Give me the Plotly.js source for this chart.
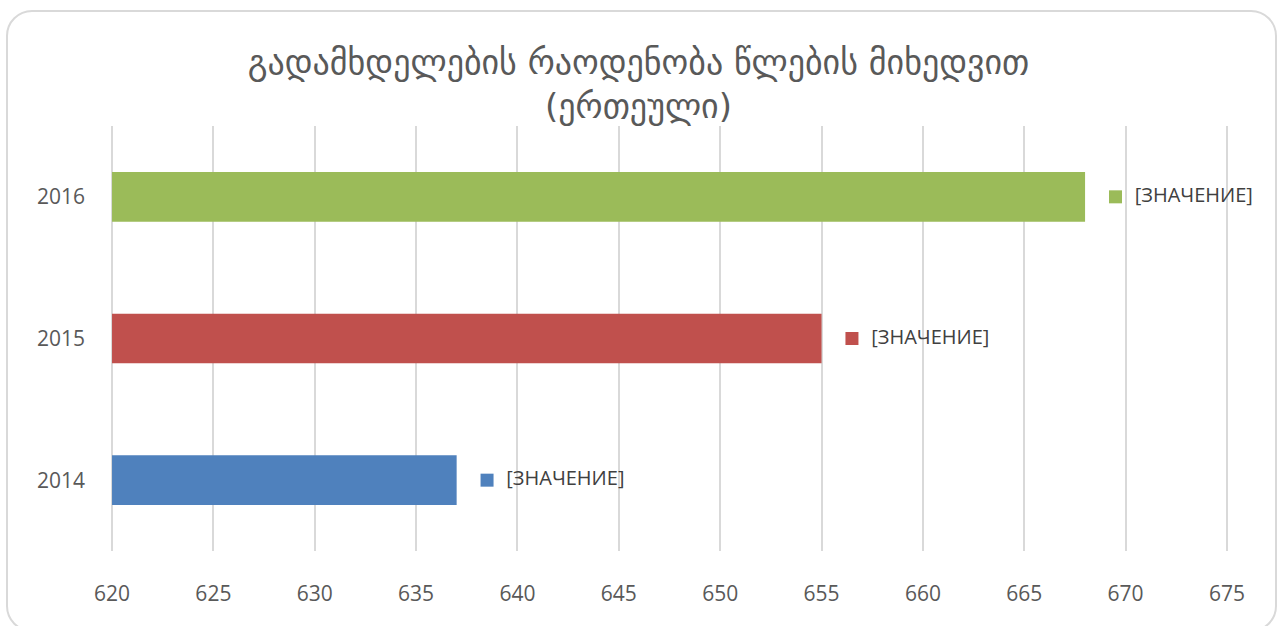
<!DOCTYPE html>
<html>
<head>
<meta charset="utf-8">
<script src="https://cdn.plot.ly/plotly-3.0.1.min.js"></script>
<style>
  html, body { margin: 0; padding: 0; background: #fff; overflow: hidden; }
  #myDiv { width: 1277px; height: 626px; }
  #frame {
    position: absolute; left: 6px; top: 10px; width: 1271px; height: 622px;
    box-sizing: border-box;
    border: 2px solid #d9d9d9; border-radius: 26px; pointer-events: none;
  }
</style>
</head>
<body>
<div id="myDiv"></div>
<div id="frame"></div>
<script>
var divId = "myDiv";

var years = ["2014", "2015", "2016"];
var counts = [637, 655, 668];
var barColors = ['#4f81bd', '#c0504d', '#9bbb59'];
var valueLabels = ["[ЗНАЧЕНИЕ]", "[ЗНАЧЕНИЕ]", "[ЗНАЧЕНИЕ]"];
var xTicks = [620, 625, 630, 635, 640, 645, 650, 655, 660, 665, 670, 675];

var axisMin = xTicks[0];
var textGray = '#595959';

var data = [
  {
    type: "bar",
    orientation: 'h',
    y: years,
    // bars start at the axis minimum like in the original excel chart
    base: axisMin,
    x: counts.map(function (v) { return v - axisMin; }),
    width: 0.35,
    marker: { color: barColors },
    customdata: counts,
    hovertemplate: '%{y}: %{customdata}<extra></extra>',
    showlegend: false,
  },
  // colored key next to each bar
  {
    type: "scatter",
    mode: "markers",
    y: years,
    x: counts.map(function (v) { return v + 1.5; }),
    marker: { symbol: 'square', size: 13, color: barColors },
    hoverinfo: 'skip',
    showlegend: false,
    cliponaxis: false,
  },
  // label text after the key
  {
    type: "scatter",
    mode: "text",
    y: years,
    x: counts.map(function (v) { return v + 2.45; }),
    text: valueLabels,
    textposition: 'middle right',
    textfont: { family: 'Open Sans, sans-serif', size: 20, color: '#404040' },
    hoverinfo: 'skip',
    showlegend: false,
    cliponaxis: false,
  },
];

var layouts = {
  width: 1277,
  height: 626,
  margin: { l: 110, r: 48, t: 126, b: 75, pad: 0 },
  paper_bgcolor: 'rgba(0,0,0,0)',
  plot_bgcolor: 'rgba(0,0,0,0)',
  title: {
    text: "გადამხდელების რაოდენობა წლების მიხედვით<br>(ერთეული)",
    font: { family: 'DejaVu Sans, sans-serif', size: 34, color: textGray },
    xref: 'container',
    x: 0.5,
    xanchor: 'center',
    yref: 'container',
    y: 0.882,
    yanchor: 'top',
  },
  xaxis: {
    range: [619.9, 675.1],
    tickvals: xTicks,
    showgrid: true,
    gridcolor: '#d9d9d9',
    gridwidth: 2,
    zeroline: false,
    showline: false,
    ticks: '',
    ticklabelstandoff: 28,
    tickfont: { family: 'Open Sans, sans-serif', size: 21, color: textGray },
    fixedrange: true,
  },
  yaxis: {
    type: 'category',
    categoryorder: 'array',
    categoryarray: years,
    showgrid: false,
    zeroline: false,
    showline: false,
    ticks: '',
    ticklabelstandoff: 24,
    tickfont: { family: 'Open Sans, sans-serif', size: 21, color: textGray },
    fixedrange: true,
  },
  font: { family: 'Open Sans, sans-serif', color: textGray },
};

var display = {
  displayModeBar: false,
};

Plotly.newPlot(divId, data, layouts, display);
</script>
</body>
</html>
